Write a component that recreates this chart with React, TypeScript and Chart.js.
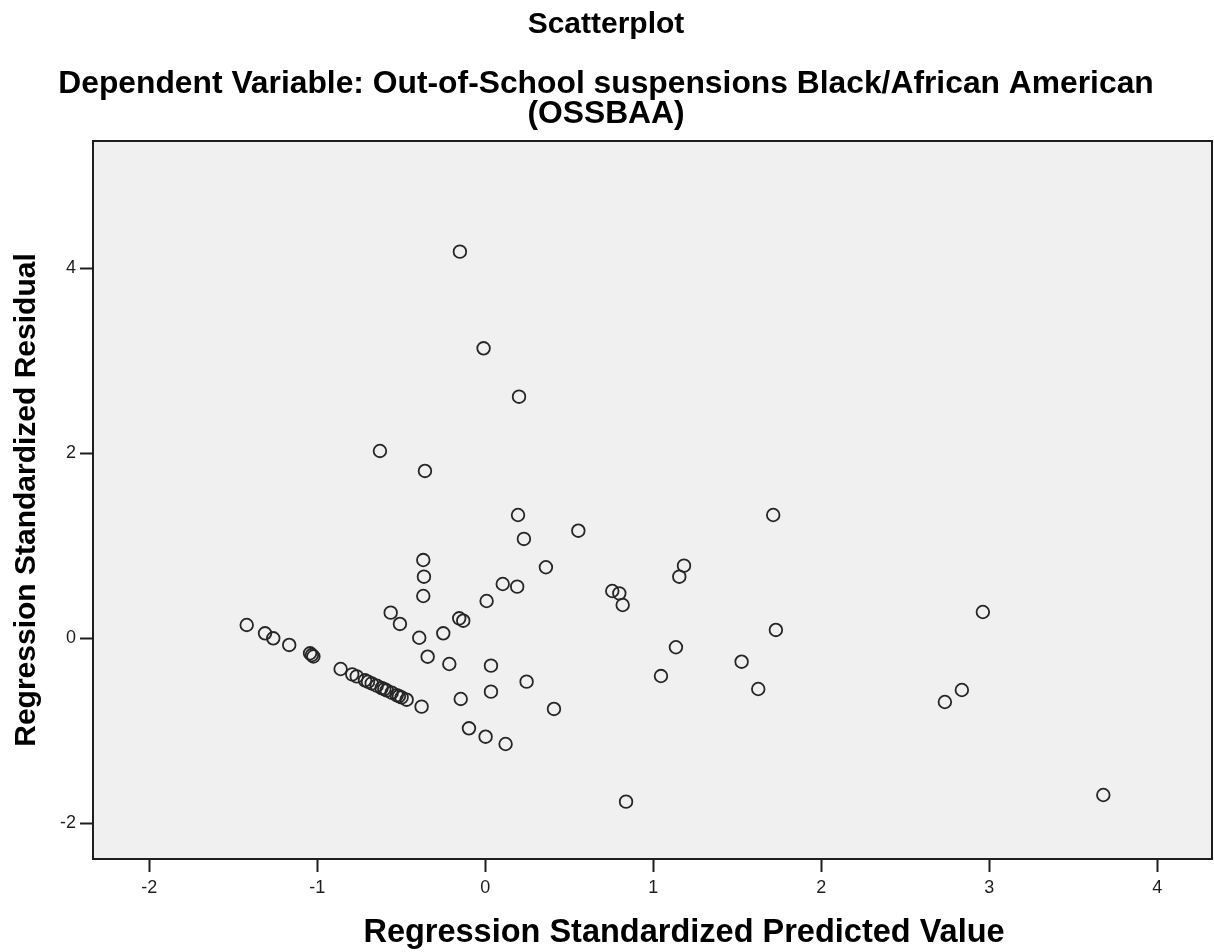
import { useEffect, useRef } from "react";
import { Chart, registerables } from "chart.js";

Chart.register(...registerables);

const chartTitle = "Scatterplot";
const subtitleLines = [
  "Dependent Variable: Out-of-School suspensions Black/African American",
  "(OSSBAA)",
];
const xAxisTitle = "Regression Standardized Predicted Value";
const yAxisTitle = "Regression Standardized Residual";

const xTickValues = [-2, -1, 0, 1, 2, 3, 4];
const yTickValues = [-2, 0, 2, 4];

const predictedValues = [
  -0.151, -0.01, 0.201, -0.627, -0.359, 0.195, 1.714, 0.554, 0.23, -0.369,
  -0.365, 0.361, 1.183, 1.155, 0.104, 0.19, -0.369, 0.756, 0.798, 0.818,
  0.008, -0.563, -0.155, -0.131, 2.962, -0.508, -1.42, -1.311, -1.262, -1.167,
  -0.393, -0.25, 1.73, 1.135, -0.343, -0.214, 0.034, 1.526, -1.043, -1.032,
  -1.023, -0.861, -0.792, -0.765, -0.716, -0.698, -0.676, -0.646, -0.617, -0.601,
  -0.587, -0.557, -0.527, -0.514, -0.498, -0.468, -0.379, -0.146, 0.034, 0.246,
  0.409, 1.046, 1.625, -0.097, 0.002, 0.121, 0.838, 2.736, 2.837, 3.679,
];
const residualValues = [
  4.18, 3.135, 2.612, 2.025, 1.809, 1.333, 1.333, 1.163, 1.074, 0.846,
  0.666, 0.768, 0.785, 0.666, 0.587, 0.558, 0.457, 0.511, 0.486, 0.36,
  0.403, 0.277, 0.216, 0.19, 0.284, 0.155, 0.144, 0.054, 0.0, -0.072,
  0.006, 0.054, 0.09, -0.097, -0.199, -0.278, -0.296, -0.253, -0.162, -0.181,
  -0.197, -0.332, -0.39, -0.412, -0.454, -0.47, -0.488, -0.512, -0.538, -0.55,
  -0.563, -0.588, -0.614, -0.626, -0.639, -0.664, -0.739, -0.656, -0.577, -0.469,
  -0.764, -0.408, -0.548, -0.973, -1.064, -1.143, -1.766, -0.689, -0.559, -1.694,
];

const xMin = -2.335;
const xMax = 4.326;
const yMin = -2.386;
const yMax = 5.376;

const FONT = "'Liberation Sans', Arial, Helvetica, sans-serif";

const plotFrame = {
  id: "plotFrame",
  beforeDraw(chart: any) {
    const { ctx, chartArea } = chart;
    ctx.save();
    ctx.fillStyle = "#ffffff";
    ctx.fillRect(0, 0, chart.width, chart.height);
    ctx.fillStyle = "#F0F0F0";
    ctx.fillRect(
      chartArea.left,
      chartArea.top,
      chartArea.right - chartArea.left,
      chartArea.bottom - chartArea.top
    );
    ctx.restore();
  },
  beforeDatasetsDraw(chart: any) {
    const { ctx, chartArea } = chart;
    ctx.save();
    ctx.strokeStyle = "#1e1e1e";
    ctx.lineWidth = 2;
    ctx.strokeRect(
      chartArea.left,
      chartArea.top,
      chartArea.right - chartArea.left,
      chartArea.bottom - chartArea.top
    );
    ctx.restore();
  },
  afterDraw(chart: any) {
    const { ctx } = chart;
    ctx.save();
    ctx.fillStyle = "#000";
    ctx.font = `bold 32.5px ${FONT}`;
    ctx.textAlign = "center";
    ctx.textBaseline = "middle";
    ctx.fillText(xAxisTitle, 684, 933);
    ctx.restore();
  },
};

export default function App() {
  const canvasRef = useRef<HTMLCanvasElement | null>(null);

  useEffect(() => {
    if (!canvasRef.current) return;
    const points = predictedValues.map((x, i) => ({ x, y: residualValues[i] }));
    const chart = new Chart(canvasRef.current, {
      type: "scatter",
      data: {
        datasets: [
          {
            data: points,
            pointRadius: 6.3,
            pointHoverRadius: 6.3,
            pointBorderWidth: 1.8,
            pointBorderColor: "#262626",
            pointBackgroundColor: "rgba(0,0,0,0)",
          },
        ],
      },
      options: {
        responsive: false,
        animation: false,
        events: [],
        layout: { autoPadding: false, padding: { left: 0, right: 2, top: 0, bottom: 0 } },
        plugins: {
          legend: { display: false },
          tooltip: { enabled: false },
          title: {
            display: true,
            text: chartTitle,
            color: "#000",
            font: { family: FONT, size: 30, weight: "bold", lineHeight: 1.2 },
            padding: { top: 7, bottom: 26 },
          },
          subtitle: {
            display: true,
            text: subtitleLines,
            color: "#000",
            font: { family: FONT, size: 31.8, weight: "bold", lineHeight: 30 / 31.8 },
            padding: { top: 0, bottom: 12 },
          },
        },
        scales: {
          x: {
            type: "linear",
            position: "bottom",
            min: xMin,
            max: xMax,
            afterBuildTicks(scale: any) {
              scale.ticks = xTickValues.map((v) => ({ value: v }));
            },
            afterFit(scale: any) {
              scale.height = 93;
              scale.paddingLeft = 0;
              scale.paddingRight = 0;
            },
            border: { display: false },
            grid: {
              drawOnChartArea: false,
              drawTicks: true,
              tickLength: 13,
              tickWidth: 2,
              tickColor: "#1e1e1e",
            },
            ticks: {
              color: "#1e1e1e",
              padding: 5,
              font: { family: FONT, size: 18 },
              maxRotation: 0,
            },
            title: { display: false, text: xAxisTitle },
          },
          y: {
            type: "linear",
            min: yMin,
            max: yMax,
            afterBuildTicks(scale: any) {
              scale.ticks = yTickValues.map((v) => ({ value: v }));
            },
            afterFit(scale: any) {
              scale.width = 93;
              scale.paddingTop = 0;
              scale.paddingBottom = 0;
            },
            border: { display: false },
            grid: {
              drawOnChartArea: false,
              drawTicks: true,
              tickLength: 13,
              tickWidth: 2,
              tickColor: "#1e1e1e",
            },
            ticks: {
              color: "#1e1e1e",
              padding: 4,
              font: { family: FONT, size: 18 },
            },
            title: {
              display: true,
              text: yAxisTitle,
              color: "#000",
              font: { family: FONT, size: 30, weight: "bold", lineHeight: 1.2 },
              padding: { top: 9, bottom: 0 },
            },
          },
        },
      },
      plugins: [plotFrame],
    });
    return () => chart.destroy();
  }, []);

  return (
    <div style={{ position: "fixed", left: 0, top: 0, width: 1214, height: 952, background: "#fff" }}>
      <canvas ref={canvasRef} width={1214} height={952} />
    </div>
  );
}
